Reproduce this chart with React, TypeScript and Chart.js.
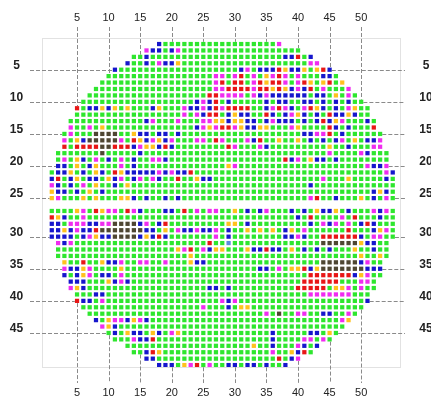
import React, { useEffect, useRef } from "react";
import { Chart, registerables } from "chart.js";

Chart.register(...registerables);

// Wafer map: one string per row (rows 1..50), one char per column (cols 1..55).
// g = pass, b = blue bin, m = magenta bin, y = yellow bin, r = red bin, k = dark bin, c = light blue bin, . = no die
const WAFER_ROWS: string[] = [
  "..... ..... ..... ..bgg ggggg ggggg ggggg gm... ..... ..... .....",
  "..... ..... ..... mbbgb mgggg ggggg ggggg ggggg ..... ..... .....",
  "..... ..... ...gg bgggg ggggg ggggg ggggg ggbbr gb... ..... .....",
  "..... ..... ..bgg bgmbb ygggg ggggg ggggg ggggg gmm.. ..... .....",
  "..... ..... bgggg ggggg ggggg ggggg bmgbb brybb ygyrb ..... .....",
  "..... ....g ggggg ggggg ggggg gmmgm rgmgy mrmgm gggbb g.... .....",
  "..... ...gg ggggg ggggg ggggg gmrgr rgmry rrmgm rygyr gy... .....",
  "..... ..ggg ggggg ggggg ggggg gmmrr rrmrr yrybm brgmg ggm.. .....",
  "..... .gggg ggggg ggggg ggggg rrmmm mgmbm bbbbb bgbbg ygmg. .....",
  "..... ggggg ggggg ggggg gggbm brgbg ggggb gbbgg bbgbg bgbgg .....",
  "....r gbbyb ygygg gbygg gmbbm brmrr rrggb mrmbg mrybg bgmyg g....",
  "....g ggggg ggggg ggggg gmgmb rrgby bbggr bgbmy bgbgr bbybg g....",
  "...gg ggggg ggggg bmggg mgggm myyby ybbgb mbbbg bgbrb ymggg bg...",
  "...mg gmgyg ggggg ggggg gggbm ymrrm ybbyy gggmy ggggr bgbgg gr...",
  "..gmg ggkkk kggyb bgbbg bgggg ggggg ggggg ggggg bbmmr gbggg ggg..",
  "..mgy bkkkk kmgry bmybm gggmm grmgg gmbrg gyggy gbgbg bmgyg bbm..",
  "..rgr rrrkk rrrbm yybrb ggggg gggrm gggmb ggggg ggggy ggbgg gmm..",
  ".gggg gggkg ggggb ggggg ggggg ggggg ggggg ggggg ggggm ggggm bggg.",
  ".gmgy bgmgb gmgbg gmmbg ggggg ggggg ggggg ggrbm gybbg bgggg gggg.",
  ".bbgy gbygg gmgbg ggggg ggggg gggym ggggg ggggg ggggg ggggg mbbm.",
  "gbbyg bgybg rybbb bbmbm bbrgg ggggg ggggg ggggg ggggg ggggg gggmb",
  "brgby gbbgy bmgbm gmbgg rggyb bgggg ggggg ggggg gggmg ggygg gggbg",
  "mbgbg mgygg bgygg ggggg ggggg ggggg ggggg ggggg gbggg ggggg ggggg",
  "ybbgb gygbg ggggg ggggg ggggg ggggg ggggg ggggg ggggg ggggg gbybg",
  "ymggg ygygg gyybg bggbg bgggg ggggg ggggg ggggg gmrgg bgggy gbgmg",
  "ggggy mgrym mgrmb gggbb grgmg mmggy gbgbm gggbg bgybb ygbgg gmbmg",
  "rybgg mgggg ggggg ggggg ggggg ggggg ggggg ggggb grggg gmgrg ggbgg",
  "bbgmm mbbmm kkkkb mgbrg ggggg gggyy gbggg ggggg gbgmb mgmgb rbggg",
  "bbybm bbrkk kkkkk bbgyg mbbmb bmgbg gygyg ygbyg mgggg ggrgg gbymg",
  "bbbbg bmybb kkkkb ybrbg ggggg gmgbg ggggg ggbbm bggrr rrrrb gmmgg",
  ".mbmg ggggg ggggg ggggg ggggg rggcg ggggg ggggg gggkk kkkky bbgg.",
  ".gggg ggggg ggggg ggggg ymrgm byygg gybbr bbgyg bgbgb gggyg gbgg.",
  ".gggg ggggg ggggg ggggg ggygg ggggg ggggg ggggg ggggg ggggy ggyg.",
  "..ygg rggyb bmggm mggmg ggybb ggggg ggggg ggggg gggkk kkkkb mgg..",
  "..mbb ymggg gyggg ggggg ggggg ggggg gggbb gmgyy rbykk kkkkk bbb..",
  "..bgb ymgbb gmggg ggggg ggggg ggggg ggggg ggggg grrrr rrrby mgg..",
  "...bb bgggy bmbgg ggggg ggggg ggggg ggggg ggggg rrrrr rgggm mg...",
  "...my bgggg ggggg ggggg ggggg bbgbg ggggg ggggr rrrrg yymgm gg...",
  "....g ggbbg ggggg ggggg ggggg ggggg ggggg ggggg gmmmm mmmgg g....",
  "....r bbgmg ggggg ggggg ggggg ggmbm ggggg ggggg ggggg ggggg b....",
  "..... ggggg ggggg ggggg ggggm gggbg yyggg ggggg ggggg ggggg .....",
  "..... .gggg ggggg ggggg ggggg ggggg ggggm gkggm mggbb ggmg. .....",
  "..... ..bgy mmbym bgggg ggggg ggggg ggggg ggggg ggggg gmy.. .....",
  "..... ...my bgggg ggggg ggggg ggggg ggggg ggggg ggggg gg... .....",
  "..... ....g bgybb gybgm ygggg ggggg ggggg bgggg gbbgy g.... .....",
  "..... ..... gggmb brggg ggggg ggggg ggggg bgggg mmgmg ..... .....",
  "..... ..... ..ggg ggggg ggggg ggggg ggygg bgggm bgb.. ..... .....",
  "..... ..... ...gg brygg ggggg ggggg ggggg mggyb rg... ..... .....",
  "..... ..... ..... bbggg ggggg ggggg ggggg grgbm ..... ..... .....",
  "..... ..... ..... ..bbb gymrg mggbb gbbgb ggb.. ..... ..... .....",
];

const BIN_KEYS = ["g", "b", "m", "y", "r", "k", "c"];
const BIN_NAMES = ["Pass", "Bin B", "Bin M", "Bin Y", "Bin R", "Bin K", "Bin C"];
const BIN_COLORS = ["#2ee62e", "#1616cc", "#f02cf0", "#ffc21e", "#e81616", "#4e4632", "#5a8ae0"];

const X_TICKS = [5, 10, 15, 20, 25, 30, 35, 40, 45, 50];
const Y_TICKS = [5, 10, 15, 20, 25, 30, 35, 40, 45];
const GAP_AFTER_ROW = 25; // a blank band separates row 25 from row 26

const grid = WAFER_ROWS.map((s) => s.replace(/ /g, ""));
const rowPos = (r: number) => (r > GAP_AFTER_ROW ? r + 1 : r);

function colExtent(c: number): [number, number] {
  let top = -1, bottom = -1;
  grid.forEach((row, i) => {
    if (row[c - 1] && row[c - 1] !== ".") {
      if (top < 0) top = i + 1;
      bottom = i + 1;
    }
  });
  return [top, bottom];
}
function rowExtent(r: number): [number, number] {
  const row = grid[r - 1];
  let first = -1, last = -1;
  for (let i = 0; i < row.length; i++) {
    if (row[i] !== ".") {
      if (first < 0) first = i + 1;
      last = i + 1;
    }
  }
  return [first, last];
}

const datasets = BIN_KEYS.map((key, k) => {
  const pts: { x: number; y: number }[] = [];
  grid.forEach((row, i) => {
    for (let j = 0; j < row.length; j++) {
      if (row[j] === key) pts.push({ x: j + 1, y: rowPos(i + 1) });
    }
  });
  return {
    label: BIN_NAMES[k],
    data: pts,
    backgroundColor: BIN_COLORS[k],
    borderColor: BIN_COLORS[k],
    borderWidth: 0,
    pointStyle: "rect" as const,
    pointRadius: 3,
    pointHoverRadius: 3,
  };
});

const HALF = 2.2;

const decor = {
  id: "waferDecor",
  beforeDatasetsDraw(chart: any) {
    const { ctx, chartArea: a, scales } = chart;
    const x = scales.x, y = scales.y;
    ctx.save();
    ctx.strokeStyle = "#e2e2e2";
    ctx.lineWidth = 1;
    ctx.strokeRect(Math.round(a.left) + 0.5, Math.round(a.top) + 0.5, Math.round(a.width), Math.round(a.height));
    ctx.setLineDash([4, 2]);
    ctx.strokeStyle = "#8a8a8a";
    X_TICKS.forEach((c) => {
      const px = Math.round(x.getPixelForValue(c)) + 0.5;
      const [top, bottom] = colExtent(c);
      ctx.beginPath();
      ctx.moveTo(px, 27);
      ctx.lineTo(px, y.getPixelForValue(rowPos(top)) - HALF);
      ctx.stroke();
      ctx.beginPath();
      ctx.moveTo(px, y.getPixelForValue(rowPos(bottom)) + HALF);
      ctx.lineTo(px, 383);
      ctx.stroke();
    });
    Y_TICKS.forEach((r) => {
      const py = Math.round(y.getPixelForValue(rowPos(r))) + 0.5;
      const [first, last] = rowExtent(r);
      ctx.beginPath();
      ctx.moveTo(30, py);
      ctx.lineTo(x.getPixelForValue(first) - HALF, py);
      ctx.stroke();
      ctx.beginPath();
      ctx.moveTo(x.getPixelForValue(last) + HALF, py);
      ctx.lineTo(405, py);
      ctx.stroke();
    });
    ctx.restore();
  },
  afterDraw(chart: any) {
    const { ctx, scales } = chart;
    const x = scales.x, y = scales.y;
    ctx.save();
    ctx.fillStyle = "#222";
    ctx.textAlign = "center";
    ctx.textBaseline = "middle";
    ctx.font = '11px "Liberation Sans", Arial, sans-serif';
    X_TICKS.forEach((c) => {
      const px = x.getPixelForValue(c);
      ctx.fillText(String(c), px, 18);
      ctx.fillText(String(c), px, 393);
    });
    ctx.font = 'bold 12px "Liberation Sans", Arial, sans-serif';
    Y_TICKS.forEach((r) => {
      const py = y.getPixelForValue(rowPos(r)) - 4;
      ctx.fillText(String(r), 16.5, py);
      ctx.fillText(String(r), 426, py);
    });
    ctx.restore();
  },
};

export default function App() {
  const ref = useRef<HTMLCanvasElement>(null);
  useEffect(() => {
    const chart = new Chart(ref.current as HTMLCanvasElement, {
      type: "scatter",
      data: { datasets: datasets as any },
      options: {
        responsive: false,
        animation: false,
        devicePixelRatio: 1,
        layout: { padding: { left: 42, top: 38, right: 31, bottom: 31 } },
        plugins: { legend: { display: false }, tooltip: { enabled: false } },
        scales: {
          x: { type: "linear", min: -0.55, max: 56.15, display: false },
          y: { type: "linear", reverse: true, min: 0.06, max: 51.3, display: false },
        },
      },
      plugins: [decor],
    });
    return () => chart.destroy();
  }, []);
  return (
    <div style={{ position: "fixed", left: 0, top: 0, width: 431, height: 398, background: "#fff" }}>
      <canvas ref={ref} width={431} height={398} style={{ display: "block" }} />
    </div>
  );
}
